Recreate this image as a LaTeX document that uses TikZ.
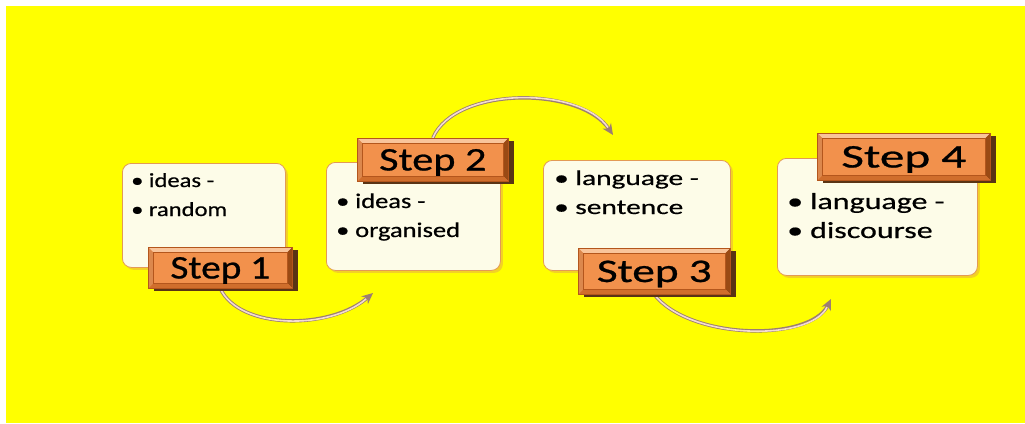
\documentclass[tikz,border=0pt]{standalone}
\usepackage{fontspec}
\usepackage{graphicx}
\setmainfont{Carlito}
\newfontfamily\boldishfont[FakeBold=0.5]{Carlito}
\newfontfamily\tagfont[FakeBold=0.7]{Carlito}
\usetikzlibrary{calc,arrows.meta}
\definecolor{bgyellow}{HTML}{FFFF00}
\definecolor{boxfill}{HTML}{FDFCE8}
\definecolor{boxline}{HTML}{E39A55}
\definecolor{tagmain}{HTML}{F2914C}
\definecolor{tagline}{HTML}{B4561C}
\definecolor{taglight}{HTML}{F9C49A}
\definecolor{tagdark}{HTML}{9A4A14}
\definecolor{tagmid}{HTML}{D06E2C}
\definecolor{tagshadow}{HTML}{5A3414}
\definecolor{arrdark}{HTML}{9C7E72}
\definecolor{arrlight}{HTML}{F4DCD2}
\pgfdeclarelayer{back}
\pgfdeclarelayer{arrows}
\pgfsetlayers{back,arrows,main}
\newcommand{\twolines}[4]{\scalebox{#2}[1]{\fontsize{#1}{29}\boldishfont\begin{tabular}[t]{@{}l@{}}\textbullet\hspace{0.22em}#3\\\textbullet\hspace{0.22em}#4\end{tabular}}}
\newcommand{\steptext}[2]{\scalebox{#1}[1]{\fontsize{33}{33}\tagfont #2}}
\begin{document}
\begin{tikzpicture}[x=1pt,y=-1pt,
  contentbox/.style={draw=boxline, line width=0.8pt, fill=boxfill, rounded corners=9pt,
    anchor=north west, inner sep=0pt,
    preaction={fill=boxline, opacity=0.45, transform canvas={shift={(2.5pt,-2.5pt)}}}},
  steptag/.style={draw=tagline, line width=0.6pt, fill=tagmain, anchor=north west,
    inner sep=0pt, text depth=0pt,
    preaction={fill=tagshadow, transform canvas={shift={(6pt,-3pt)}}},
    path picture={
      \coordinate (pp-nw) at (path picture bounding box.north west);
      \coordinate (pp-ne) at (path picture bounding box.north east);
      \coordinate (pp-sw) at (path picture bounding box.south west);
      \coordinate (pp-se) at (path picture bounding box.south east);
      \fill[taglight] (pp-nw) -- (pp-ne) -- ($(pp-ne)+(-5pt,-5pt)$) -- ($(pp-nw)+(5pt,-5pt)$) -- cycle;
      \fill[tagdark] (pp-ne) -- (pp-se) -- ($(pp-se)+(-5pt,5pt)$) -- ($(pp-ne)+(-5pt,-5pt)$) -- cycle;
      \fill[tagmid] (pp-se) -- (pp-sw) -- ($(pp-sw)+(5pt,5pt)$) -- ($(pp-se)+(-5pt,5pt)$) -- cycle;
      \fill[tagmid!70!taglight] (pp-sw) -- (pp-nw) -- ($(pp-nw)+(5pt,-5pt)$) -- ($(pp-sw)+(5pt,5pt)$) -- cycle;
      \draw[tagline, line width=0.5pt, fill=tagmain] ($(pp-nw)+(5pt,-5pt)$) rectangle ($(pp-se)+(-5pt,5pt)$);
    }},
  bullettext/.style={anchor=base west, inner sep=0pt},
  arrunder/.style={draw=arrdark, line width=3.4pt, -{Stealth[length=11pt,width=10pt]}},
  arrover/.style={draw=arrlight, line width=1.6pt, shorten >=9pt}
]
\useasboundingbox (0,0) rectangle (1025,423);
\begin{pgfonlayer}{back}
  \fill[white] (0,0) rectangle (1025,423);
  \fill[bgyellow] (6,6) rectangle (1025,423);
\end{pgfonlayer}

% content boxes
\node[contentbox, minimum width=163pt, minimum height=104pt] (b1) at (122,163) {};
\node[contentbox, minimum width=174pt, minimum height=108pt] (b2) at (326,162) {};
\node[contentbox, minimum width=187pt, minimum height=110pt] (b3) at (543,160) {};
\node[contentbox, minimum width=200pt, minimum height=117pt] (b4) at (777,158) {};

% bullet texts
\node[bullettext] (t1) at (131,187) {\twolines{20}{1.23}{ideas -}{random}};
\node[bullettext] (t2) at (336,208) {\twolines{21}{1.26}{ideas -}{organised}};
\node[bullettext] (t3) at (554,185) {\twolines{21}{1.40}{language -}{sentence}};
\node[bullettext] (t4) at (787,209) {\twolines{23}{1.39}{language -}{discourse}};

% step tags
\node[steptag, minimum width=144pt, minimum height=41pt] (s1) at (148,247) {\steptext{1.19}{Step 1}};
\node[steptag, minimum width=151pt, minimum height=43pt] (s2) at (357,138) {\steptext{1.28}{Step 2}};
\node[steptag, minimum width=152pt, minimum height=46pt] (s3) at (578,248) {\steptext{1.37}{Step 3}};
\node[steptag, minimum width=173pt, minimum height=47pt] (s4) at (817,133) {\steptext{1.49}{Step 4}};

% arrow ends
\coordinate (e1) at (373,293);
\coordinate (e2) at (613,135);
\coordinate (e3) at (831,299);

\begin{pgfonlayer}{arrows}
  \draw[arrunder] (s1.south) .. controls (240,330) and (330,330) .. (e1);
  \draw[arrover]  (s1.south) .. controls (240,330) and (330,330) .. (e1);
  \draw[arrunder] (s2.north) .. controls (455,86) and (580,86) .. (e2);
  \draw[arrover]  (s2.north) .. controls (455,86) and (580,86) .. (e2);
  \draw[arrunder] (s3.south) .. controls (690,340) and (810,342) .. (e3);
  \draw[arrover]  (s3.south) .. controls (690,340) and (810,342) .. (e3);
\end{pgfonlayer}
\end{tikzpicture}
\end{document}
